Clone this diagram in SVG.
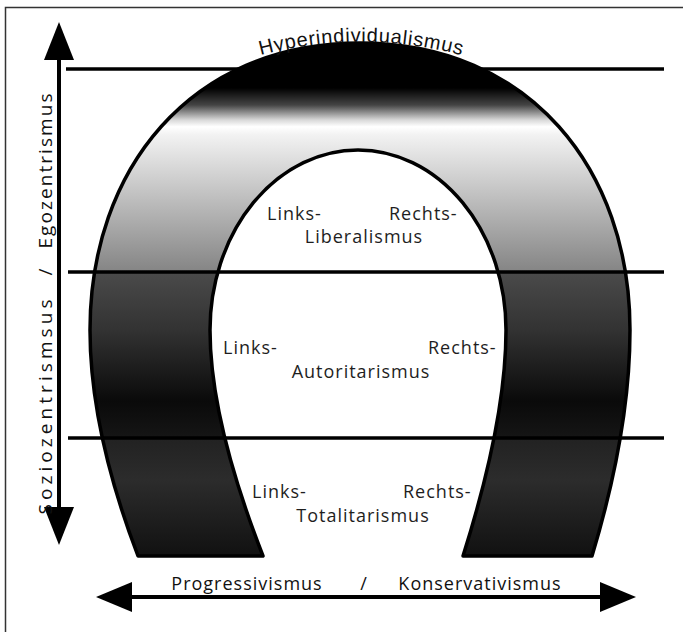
<svg xmlns="http://www.w3.org/2000/svg" width="683" height="632" viewBox="0 0 683 632">
<style>
.lbl{font-family:"Open Sans","Liberation Sans",sans-serif;font-size:18px;fill:#1e1e1e;letter-spacing:1px}
.ax{font-family:"Open Sans","Liberation Sans",sans-serif;font-size:18px;fill:#111;letter-spacing:1px}
.vx{font-family:"Open Sans","Liberation Sans",sans-serif;font-size:19px;fill:#111}
.ln{stroke:#000;stroke-width:3.5;fill:none}
</style>
<defs>
<linearGradient id="g" gradientUnits="userSpaceOnUse" x1="0" y1="40" x2="0" y2="556">
<stop offset="0" stop-color="#000"/>
<stop offset="0.093" stop-color="#000"/>
<stop offset="0.126" stop-color="#444"/>
<stop offset="0.155" stop-color="#d8d8d8"/>
<stop offset="0.168" stop-color="#fff"/>
<stop offset="0.184" stop-color="#f2f2f2"/>
<stop offset="0.31" stop-color="#bdbdbd"/>
<stop offset="0.448" stop-color="#858585"/>
<stop offset="0.452" stop-color="#4a4a4a"/>
<stop offset="0.56" stop-color="#333"/>
<stop offset="0.70" stop-color="#0a0a0a"/>
<stop offset="0.769" stop-color="#151515"/>
<stop offset="0.773" stop-color="#222"/>
<stop offset="0.853" stop-color="#2c2c2c"/>
<stop offset="1" stop-color="#111"/>
</linearGradient>
<path id="arcT" d="M 220,68.4 A 390 390 0 0 1 502,68.4"/>
</defs>
<rect x="5.5" y="7.5" width="700" height="700" fill="none" stroke="#333" stroke-width="1.5"/>
<g id="horseshoe">
<path d="M138,556 Q90,430 90,330 C90,170 190,43 360,43 C530,43 630,170 630,330 Q630,430 592,556 L463,556 Q506,420 506,330 A148,180 0 0 0 210,330 Q210,420 263,556 Z" fill="url(#g)" stroke="#000" stroke-width="3.5" stroke-linejoin="round"/>
</g>
<g id="connectors">
<line class="ln" x1="66" y1="69" x2="664" y2="69"/>
<line class="ln" x1="68" y1="272" x2="664" y2="272"/>
<line class="ln" x1="68" y1="438" x2="664" y2="438"/>
<line x1="59" y1="58" x2="59" y2="510" stroke="#000" stroke-width="4"/>
<path d="M59,22 L74,60 L44,60 Z" fill="#000"/>
<path d="M59,545 L74,507 L44,507 Z" fill="#000"/>
<line x1="128" y1="597" x2="602" y2="597" stroke="#000" stroke-width="4"/>
<path d="M96,597 L132,582 L132,612 Z" fill="#000"/>
<path d="M636,597 L600,582 L600,612 Z" fill="#000"/>
</g>
<g id="top-label">
<text font-family="'Liberation Sans',Arial,sans-serif" font-size="20" fill="#111"><textPath href="#arcT" startOffset="50%" text-anchor="middle" textLength="203" lengthAdjust="spacing">Hyperindividualismus</textPath></text>
</g>
<g id="liberalismus">
<text class="lbl" x="267" y="220">Links-</text>
<text class="lbl" x="389" y="220">Rechts-</text>
<text class="lbl" x="364" y="243" text-anchor="middle">Liberalismus</text>
</g>
<g id="autoritarismus">
<text class="lbl" x="223" y="354">Links-</text>
<text class="lbl" x="428" y="354">Rechts-</text>
<text class="lbl" x="361" y="378" text-anchor="middle">Autoritarismus</text>
</g>
<g id="totalitarismus">
<text class="lbl" x="252" y="498">Links-</text>
<text class="lbl" x="403" y="498">Rechts-</text>
<text class="lbl" x="363" y="522" text-anchor="middle">Totalitarismus</text>
</g>
<g id="x-axis">
<text class="ax" x="247" y="590" text-anchor="middle">Progressivismus</text>
<text class="ax" x="364" y="590" text-anchor="middle">/</text>
<text class="ax" x="480" y="590" text-anchor="middle">Konservativismus</text>
</g>
<g id="y-axis">
<text class="vx" transform="translate(52,171) rotate(-90)" text-anchor="middle" textLength="155" lengthAdjust="spacing">Egozentrismus</text>
<text class="vx" transform="translate(52,272) rotate(-90)" text-anchor="middle">/</text>
<text class="vx" transform="translate(52,407) rotate(-90)" text-anchor="middle" textLength="215" lengthAdjust="spacing">Soziozentrismsus</text>
</g>
</svg>
